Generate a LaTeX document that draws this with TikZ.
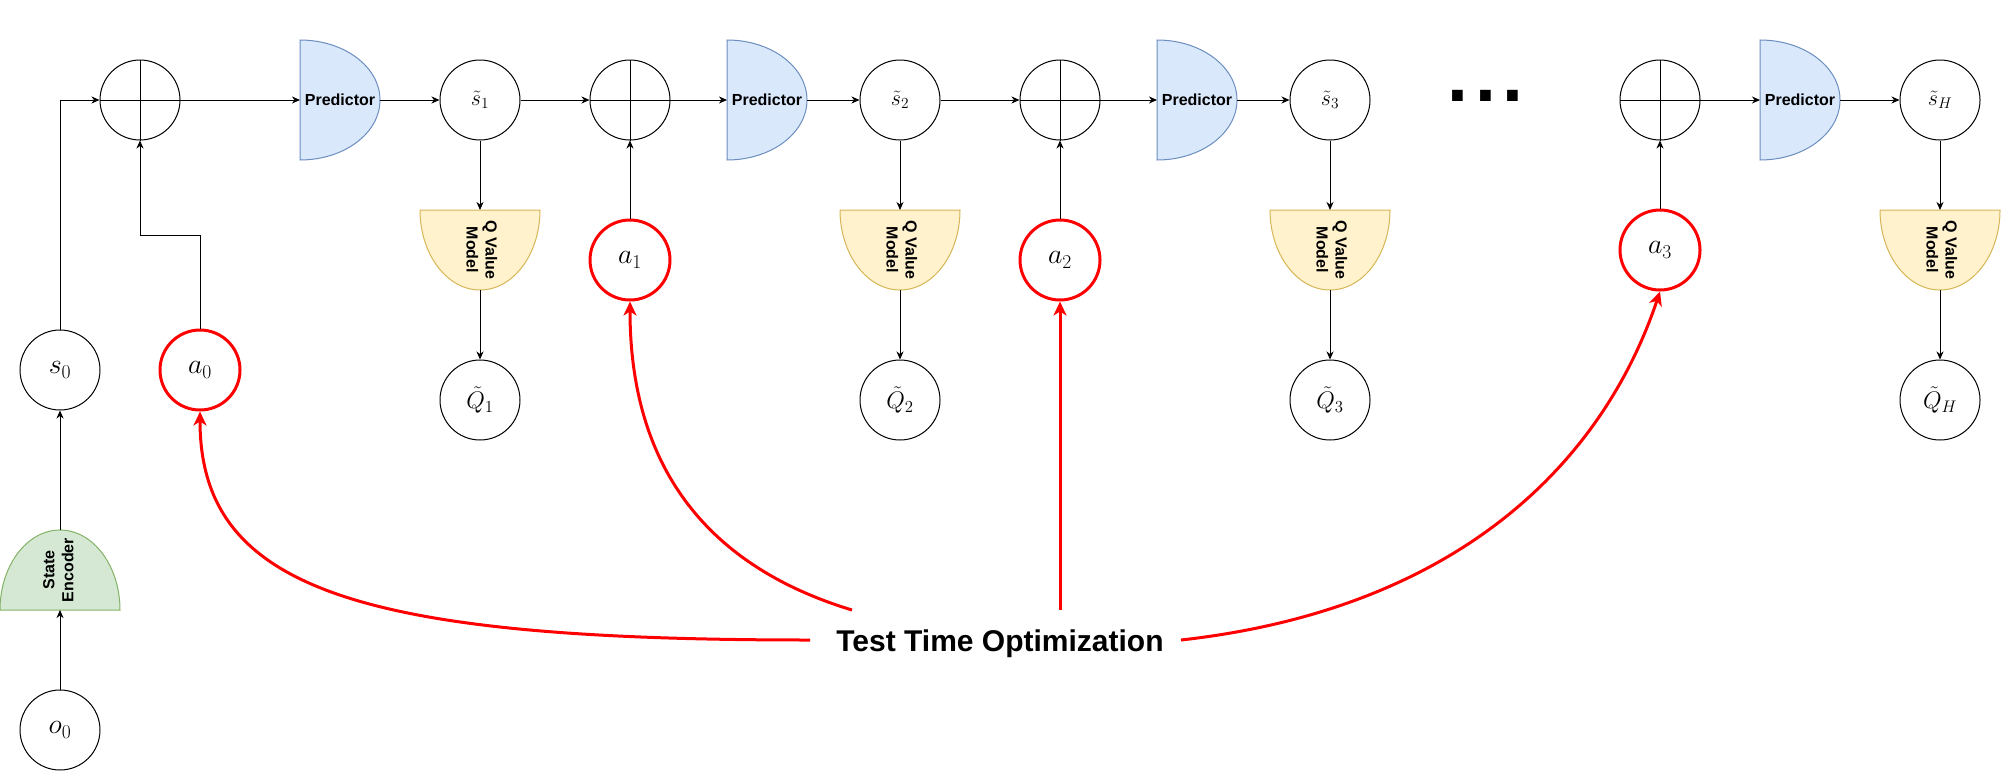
\RequirePackage{fix-cm}
\documentclass[tikz,border=0pt]{standalone}
\usepackage[no-math]{fontspec}
\newfontfamily\arial{Liberation Sans}
\usetikzlibrary{arrows.meta,calc,backgrounds}
\definecolor{predfill}{HTML}{DAE8FC}\definecolor{predline}{HTML}{6C8EBF}
\definecolor{qfill}{HTML}{FFF2CC}\definecolor{qline}{HTML}{D6B656}
\definecolor{encfill}{HTML}{D5E8D4}\definecolor{encline}{HTML}{82B366}
\definecolor{tred}{HTML}{FF0000}
\newcommand\lbl{\arial\bfseries\fontsize{16}{19}\selectfont}
\newcommand\mA{\fontsize{28}{30}\selectfont}
\newcommand\mB{\fontsize{22}{24}\selectfont}
\newcommand\mC{\fontsize{24}{26}\selectfont}
\newcommand\twol[2]{\begin{tabular}{@{}c@{}}#1\\#2\end{tabular}}
% half-ellipse shapes drawn from node anchors
\newcommand\shpR[2]{\draw[#2] (#1.north west) -- (#1.south west)
  .. controls ($(#1.south west)!0.552!(#1.south east)$) and ($(#1.east)!0.552!(#1.south east)$) .. (#1.east)
  .. controls ($(#1.east)!0.552!(#1.north east)$) and ($(#1.north west)!0.552!(#1.north east)$) .. (#1.north west) -- cycle;}
\newcommand\shpD[2]{\draw[#2] (#1.north east) -- (#1.north west)
  .. controls ($(#1.north west)!0.552!(#1.south west)$) and ($(#1.south)!0.552!(#1.south west)$) .. (#1.south)
  .. controls ($(#1.south)!0.552!(#1.south east)$) and ($(#1.north east)!0.552!(#1.south east)$) .. (#1.north east) -- cycle;}
\newcommand\shpU[2]{\draw[#2] (#1.south west) -- (#1.south east)
  .. controls ($(#1.south east)!0.552!(#1.north east)$) and ($(#1.north)!0.552!(#1.north east)$) .. (#1.north)
  .. controls ($(#1.north)!0.552!(#1.north west)$) and ($(#1.south west)!0.552!(#1.north west)$) .. (#1.south west) -- cycle;}
\begin{document}
\begin{tikzpicture}[x=1pt,y=-1pt,line width=1pt,
  >={Stealth[length=8pt,width=7pt,inset=2.5pt]},
  circ/.style={circle,draw,line width=1pt,minimum size=80pt,inner sep=0pt},
  act/.style={circle,draw=tred,line width=3pt,minimum size=80pt,inner sep=0pt,font=\mA},
  shp/.style={inner sep=0pt,outer sep=0pt,align=center,font=\lbl},
  predbox/.style={shp,minimum width=80pt,minimum height=120pt},
  qbox/.style={shp,minimum width=120pt,minimum height=80pt},
  predsty/.style={fill=predfill,draw=predline,line width=1pt},
  qsty/.style={fill=qfill,draw=qline,line width=1pt},
  encsty/.style={fill=encfill,draw=encline,line width=1pt},
  flow/.style={->,line width=1pt},
  redarr/.style={draw=tred,line width=3pt,-{Stealth[length=14pt,width=13pt,inset=4pt]}}]
\useasboundingbox (0,0) rectangle (2001,771);

% left column
\node[circ,font=\mA] (o0) at (60,730) {$o_0$};
\node[qbox] (enc) at (60,570) {\rotatebox{90}{\twol{State}{Encoder}}};
\node[circ,font=\mA] (s0) at (60,370) {$s_0$};
\node[act] (a0) at (200,370) {$a_0$};

% stage 1
\node[circ] (x1) at (140,100) {};
\node[predbox] (p1) at (340,100) {Predictor};
\node[circ,font=\mB] (s1) at (480,100) {$\tilde{s}_1$};
\node[qbox] (q1) at (480,250) {\rotatebox{-90}{\twol{Q Value}{Model}}};
\node[circ,font=\mC] (Q1) at (480,400) {$\tilde{Q}_1$};

% stage 2
\node[circ] (x2) at (630,100) {};
\node[act] (a1) at (630,260) {$a_1$};
\node[predbox] (p2) at (767,100) {Predictor};
\node[circ,font=\mB] (s2) at (900,100) {$\tilde{s}_2$};
\node[qbox] (q2) at (900,250) {\rotatebox{-90}{\twol{Q Value}{Model}}};
\node[circ,font=\mC] (Q2) at (900,400) {$\tilde{Q}_2$};

% stage 3
\node[circ] (x3) at (1060,100) {};
\node[act] (a2) at (1060,260) {$a_2$};
\node[predbox] (p3) at (1197,100) {Predictor};
\node[circ,font=\mB] (s3) at (1330,100) {$\tilde{s}_3$};
\node[qbox] (q3) at (1330,250) {\rotatebox{-90}{\twol{Q Value}{Model}}};
\node[circ,font=\mC] (Q3) at (1330,400) {$\tilde{Q}_3$};

% dots
\node[inner sep=0pt,anchor=base,font=\arial\bfseries\fontsize{75}{75}\selectfont] (dots) at (1485.5,101) {.\kern7pt.\kern7pt.};

% stage H
\node[circ] (xH) at (1660,100) {};
\node[act] (a3) at (1660,250) {$a_3$};
\node[predbox] (pH) at (1800,100) {Predictor};
\node[circ,font=\mB] (sH) at (1940,100) {$\tilde{s}_H$};
\node[qbox] (qH) at (1940,250) {\rotatebox{-90}{\twol{Q Value}{Model}}};
\node[circ,font=\mC] (QH) at (1940,400) {$\tilde{Q}_H$};

% text
\node[inner sep=0pt,anchor=base,font=\arial\bfseries\fontsize{30}{36}\selectfont] (tto) at (1000,651) {Test Time Optimization};

% shapes in the background
\begin{pgfonlayer}{background}
  \shpU{enc}{encsty}
  \shpR{p1}{predsty}\shpR{p2}{predsty}\shpR{p3}{predsty}\shpR{pH}{predsty}
  \shpD{q1}{qsty}\shpD{q2}{qsty}\shpD{q3}{qsty}\shpD{qH}{qsty}
\end{pgfonlayer}

% plus crosses
\foreach \n in {x1,x2,x3,xH}{\draw (\n.north) -- (\n.south) (\n.west) -- (\n.east);}

% black connectors
\draw[flow] (o0) -- (enc.south);
\draw[flow] (enc.north) -- (s0);
\draw[flow] (s0.north) |- (x1.west);
\coordinate (a0bend) at (140,235);
\draw[flow] (a0.north) |- (a0bend) -- (x1.south);
\draw[flow] (x1.east) -- (p1.west);
\draw[flow] (p1.east) -- (s1.west);
\draw[flow] (s1.south) -- (q1.north);
\draw[flow] (q1.south) -- (Q1.north);
\draw[flow] (s1.east) -- (x2.west);
\draw[flow] (a1.north) -- (x2.south);
\draw[flow] (x2.east) -- (p2.west);
\draw[flow] (p2.east) -- (s2.west);
\draw[flow] (s2.south) -- (q2.north);
\draw[flow] (q2.south) -- (Q2.north);
\draw[flow] (s2.east) -- (x3.west);
\draw[flow] (a2.north) -- (x3.south);
\draw[flow] (x3.east) -- (p3.west);
\draw[flow] (p3.east) -- (s3.west);
\draw[flow] (s3.south) -- (q3.north);
\draw[flow] (q3.south) -- (Q3.north);
\draw[flow] (a3.north) -- (xH.south);
\draw[flow] (xH.east) -- (pH.west);
\draw[flow] (pH.east) -- (sH.west);
\draw[flow] (sH.south) -- (qH.north);
\draw[flow] (qH.south) -- (QH.north);

% red optimisation arrows
\coordinate (c0) at (810,640);
\coordinate (c1) at (852,610);
\coordinate (c2) at (1060,610);
\coordinate (c3) at (1181,640);
\draw[redarr] (c0) .. controls (360,640) and (200,590) .. (a0.south);
\draw[redarr] (c1) .. controls (720,570) and (630,480) .. (a1.south);
\draw[redarr] (c2) -- (a2.south);
\draw[redarr] (c3) .. controls (1450,610) and (1600,470) .. (a3.south);
\end{tikzpicture}
\end{document}
